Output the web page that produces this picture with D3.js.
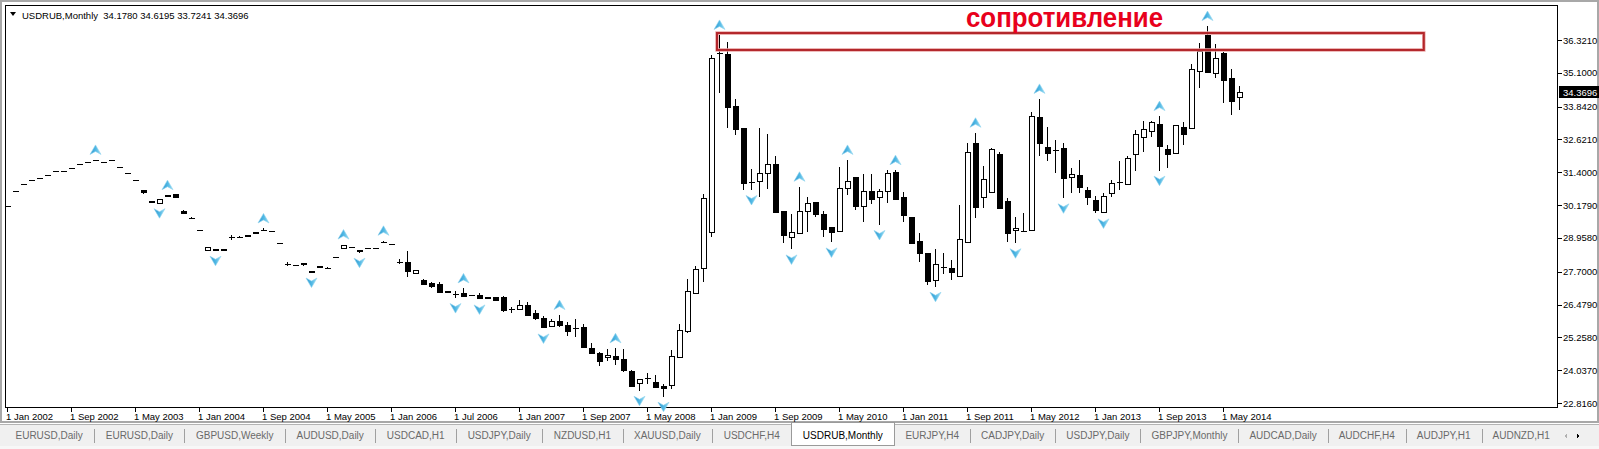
<!DOCTYPE html>
<html>
<head>
<meta charset="utf-8">
<script src="https://cdn.jsdelivr.net/npm/d3@7"></script>
<style>
  body { margin: 0; background: #fff; overflow: hidden; }
  svg { display: block; }
</style>
</head>
<body>
<div id="chart"></div>
<script>
// Layout
const width = 1599;
const height = 449;
const frame = {left: 5.5, top: 5.5, right: 1557.5, bottom: 407.5};
const bar_step = 8;    // px per monthly bar
const first_bar_x = 7;

// Data (one bar per month, Jan 2002 .. mid 2014, a few months missing)
const opens = [30.14,30.70,30.96,31.10,31.18,31.30,31.45,31.46,31.55,31.71,
  31.77,31.86,31.77,31.85,31.59,31.37,31.10,30.73,30.33,30.25,
  30.55,30.59,29.95,29.71,29.25,28.52,28.55,28.55,28.98,29.00,
  29.06,29.16,29.26,29.21,28.76,28.00,27.94,28.01,27.72,27.91,
  27.84,28.26,28.60,28.61,28.50,28.58,28.58,28.81,28.73,28.08,
  28.05,27.66,27.39,27.27,27.24,26.99,26.87,26.90,26.82,26.83,
  26.76,26.77,26.75,26.30,26.30,26.45,26.15,25.99,25.67,25.88,
  25.72,25.62,25.65,24.86,24.66,24.52,24.56,24.44,23.99,23.55,
  23.74,23.59,23.46,23.48,24.52,25.52,26.93,27.84,29.18,35.85,
  35.80,33.86,33.06,31.05,31.05,31.36,31.70,29.96,28.99,29.13,
  29.96,30.28,29.84,29.35,29.20,30.84,31.21,30.12,30.69,30.47,
  30.68,31.42,30.47,29.74,28.85,28.38,27.39,27.89,27.83,27.54,
  28.82,32.50,30.47,30.65,32.08,30.33,29.22,29.23,29.25,33.45,
  32.35,32.23,32.29,31.21,31.30,30.74,30.37,29.91,30.62,31.05,
  30.95,32.07,32.69,32.91,33.18,32.25,32.11,33.08,33.04,35.17,
  36.51,35.08,35.85,34.90,34.1780];
const highs = [30.14,30.70,30.96,31.10,31.18,31.30,31.45,31.46,31.55,31.71,
  31.77,31.86,31.77,31.85,31.59,31.37,31.10,30.73,30.33,30.41,
  30.55,30.59,29.98,29.73,29.25,28.63,28.55,28.55,29.05,29.03,
  29.06,29.16,29.31,29.21,28.76,28.08,27.94,28.01,27.72,27.91,
  27.87,28.26,28.71,28.61,28.50,28.58,28.58,28.85,28.73,28.18,
  28.48,27.76,27.43,27.31,27.30,26.99,26.99,27.08,26.82,26.91,
  26.76,26.77,26.80,26.40,26.65,26.56,26.28,26.05,25.93,26.09,
  25.84,25.93,25.75,25.06,24.72,24.82,24.85,24.82,24.03,23.71,
  23.92,23.86,23.52,24.79,25.74,27.42,27.91,30.59,35.76,36.51,
  36.26,34.12,33.06,31.51,33.06,32.81,32.00,29.96,29.85,30.86,
  30.49,30.28,29.96,29.35,31.61,31.86,31.21,31.32,31.32,30.79,
  31.48,31.48,30.68,29.74,29.13,28.38,28.54,28.38,28.14,30.18,
  32.50,32.87,31.64,32.29,32.16,30.43,29.75,29.87,33.65,34.13,
  33.07,32.60,32.48,31.55,31.86,30.86,30.52,30.64,31.11,31.82,
  32.00,32.99,33.32,33.32,33.49,32.42,33.16,33.26,35.42,36.22,
  36.84,36.16,35.89,35.24,34.6195];
const lows = [30.14,30.70,30.96,31.10,31.18,31.30,31.45,31.46,31.55,31.71,
  31.77,31.86,31.77,31.85,31.59,31.37,31.10,30.60,30.28,30.25,
  30.51,30.49,29.84,29.67,29.25,28.52,28.48,28.50,28.88,28.98,
  29.02,29.12,29.24,29.21,28.76,27.92,27.94,27.93,27.67,27.87,
  27.82,28.26,28.60,28.61,28.41,28.58,28.58,28.79,28.73,27.98,
  27.49,27.66,27.19,27.10,26.90,26.94,26.72,26.77,26.82,26.67,
  26.71,26.67,26.20,26.18,26.30,26.05,25.90,25.59,25.67,25.66,
  25.31,25.28,24.89,24.67,24.20,24.38,24.23,23.98,23.42,23.27,
  23.52,23.36,23.05,23.33,24.48,25.43,26.90,27.30,29.00,34.34,
  33.04,32.79,30.74,30.74,30.49,30.78,29.87,28.76,28.53,29.13,
  29.17,29.75,29.00,28.79,29.20,30.55,29.99,29.56,30.22,29.44,
  30.25,30.40,29.56,28.79,28.07,27.21,27.14,27.62,27.39,27.49,
  28.82,29.69,30.06,30.65,30.03,28.82,28.76,29.17,29.25,32.00,
  31.83,31.39,30.43,30.64,30.64,30.18,29.87,29.87,30.49,30.74,
  30.93,31.45,32.17,32.72,31.46,31.55,32.08,32.41,33.04,34.52,
  35.12,34.92,33.99,33.53,33.7241];
const closes = [30.14,30.70,30.96,31.10,31.18,31.30,31.45,31.46,31.55,31.71,
  31.77,31.86,31.77,31.85,31.59,31.37,31.10,30.65,30.28,30.41,
  30.51,30.49,29.86,29.70,29.25,28.63,28.50,28.50,28.98,29.00,
  29.02,29.12,29.26,29.21,28.76,28.00,27.94,27.97,27.67,27.87,
  27.84,28.26,28.71,28.61,28.45,28.58,28.58,28.81,28.73,28.08,
  27.70,27.76,27.23,27.14,26.95,26.94,26.87,26.77,26.82,26.70,
  26.71,26.67,26.25,26.30,26.46,26.09,25.95,25.64,25.87,25.73,
  25.51,25.62,24.91,24.69,24.35,24.60,24.44,24.02,23.45,23.71,
  23.74,23.42,23.38,24.57,25.53,26.99,27.82,30.44,35.65,35.83,
  33.84,33.00,31.03,31.05,31.36,31.70,29.91,29.07,29.16,29.96,
  30.27,29.84,29.30,29.17,30.80,31.09,30.12,30.69,30.40,30.69,
  31.36,30.42,29.79,28.79,28.42,27.33,27.97,27.89,27.67,28.91,
  32.17,30.12,31.15,32.25,30.08,29.13,29.31,29.23,33.50,32.50,
  32.13,32.23,31.18,31.32,30.86,30.47,30.00,30.52,31.01,31.05,
  31.92,32.81,33.00,33.26,32.35,32.08,33.16,32.81,35.24,35.91,
  35.12,35.64,34.86,34.03,34.3696];

// fractal indicator marks (bar indices)
const up_fractals = [11,20,32,42,47,57,69,76,89,99,105,111,121,129,144,150];
const down_fractals = [19,26,38,44,56,59,67,79,82,93,98,103,109,116,126,132,137,144];

// axes
const price_ticks = [36.3210,35.1000,33.8420,32.6210,31.4000,30.1790,28.9580,27.7000,26.4790,25.2580,24.0370,22.8160];
const date_labels = ["1 Jan 2002","1 Sep 2002","1 May 2003","1 Jan 2004","1 Sep 2004","1 May 2005","1 Jan 2006",
  "1 Jul 2006","1 Jan 2007","1 Sep 2007","1 May 2008","1 Jan 2009","1 Sep 2009","1 May 2010","1 Jan 2011",
  "1 Sep 2011","1 May 2012","1 Jan 2013","1 Sep 2013","1 May 2014"];
const label_every = 8;  // one date label every 8 bars

// header + annotation
const symbol_name = "USDRUB,Monthly";
const last_ohlc = [34.1780, 34.6195, 33.7241, 34.3696];
const zone_note = "сопротивление";
const zone_prices = [35.95, 36.58];   // the red box
const zone_bars = [88.75, 177.1];

// terminal tabs at the bottom
const tab_names = ["EURUSD,Daily","EURUSD,Daily","GBPUSD,Weekly","AUDUSD,Daily","USDCAD,H1","USDJPY,Daily",
  "NZDUSD,H1","XAUUSD,Daily","USDCHF,H4","USDRUB,Monthly","EURJPY,H4","CADJPY,Daily","USDJPY,Daily",
  "GBPJPY,Monthly","AUDCAD,Daily","AUDCHF,H4","AUDJPY,H1","AUDNZD,H1"];
const active_tab = "USDRUB,Monthly";

// Scales
let x = d3.scaleLinear()
  .domain([0, opens.length - 1])
  .range([first_bar_x, first_bar_x + bar_step * (opens.length - 1)]);

let y = d3.scaleLinear()
  .domain([22.668, 37.586])
  .range([frame.bottom - 0.5, frame.top + 0.5]);

const bars = opens.map((o, i) => ({i: i, o: o, h: highs[i], l: lows[i], c: closes[i]}));
const cx = i => Math.round(x(i)) + 0.5;  // crisp pixel column

const font = "'Liberation Sans', Arial, sans-serif";

let svg = d3.select("#chart").append("svg")
  .attr("width", width)
  .attr("height", height)
  .style("font-family", font);

let defs = svg.append("defs");
let grad = defs.append("linearGradient").attr("id", "frac_fill")
  .attr("x1", 0).attr("x2", 1).attr("y1", 0).attr("y2", 0);
grad.append("stop").attr("offset", "0%").attr("stop-color", "#2f97cf");
grad.append("stop").attr("offset", "50%").attr("stop-color", "#4fb7e4");
grad.append("stop").attr("offset", "100%").attr("stop-color", "#9adcf2");

// window borders
svg.append("rect")
  .attr("x", 1).attr("y", 1).attr("width", width - 2).attr("height", 421)
  .attr("fill", "none").attr("stroke", "#a8a8a8").attr("stroke-width", 2);

svg.append("rect")
  .attr("x", frame.left).attr("y", frame.top)
  .attr("width", frame.right - frame.left).attr("height", frame.bottom - frame.top)
  .attr("fill", "#fff").attr("stroke", "#000").attr("shape-rendering", "crispEdges");

// Candles
let candle_g = svg.append("g").attr("shape-rendering", "crispEdges");

candle_g.selectAll("line.wick").data(bars.filter(d => y(d.l) - y(d.h) >= 1)).join("line")
  .attr("class", "wick")
  .attr("x1", d => cx(d.i)).attr("x2", d => cx(d.i))
  .attr("y1", d => y(d.h)).attr("y2", d => y(d.l))
  .attr("stroke", "#000");

// flat bodies are drawn as a dash, like MT4 does for dojis
candle_g.selectAll("line.doji").data(bars.filter(d => Math.abs(y(d.o) - y(d.c)) < 1)).join("line")
  .attr("class", "doji")
  .attr("x1", d => cx(d.i) - 3).attr("x2", d => cx(d.i) + 3)
  .attr("y1", d => Math.round(y(d.c)) + 0.5).attr("y2", d => Math.round(y(d.c)) + 0.5)
  .attr("stroke", "#000");

candle_g.selectAll("rect.body").data(bars.filter(d => Math.abs(y(d.o) - y(d.c)) >= 1)).join("rect")
  .attr("class", "body")
  .attr("x", d => cx(d.i) - 2.5)
  .attr("y", d => Math.round(y(Math.max(d.o, d.c))) + 0.5)
  .attr("width", 5)
  .attr("height", d => Math.max(1, Math.round(y(Math.min(d.o, d.c)) - y(Math.max(d.o, d.c)))))
  .attr("fill", d => d.c > d.o ? "#fff" : "#000")
  .attr("stroke", "#000");

// Fractal arrows
let frac_g = svg.append("g");
frac_g.selectAll("path.up").data(up_fractals).join("path")
  .attr("class", "up")
  .attr("transform", i => `translate(${cx(i)},${y(highs[i]) - 10})`)
  .attr("d", "M0,-5 L5.5,4.5 L0,1.5 L-5.5,4.5 Z")
  .attr("fill", "url(#frac_fill)")
  .attr("stroke", "#8fd3ee").attr("stroke-width", 0.6);

frac_g.selectAll("path.down").data(down_fractals).join("path")
  .attr("class", "down")
  .attr("transform", i => `translate(${cx(i)},${y(lows[i]) + 10})`)
  .attr("d", "M0,5 L5.5,-4.5 L0,-1.5 L-5.5,-4.5 Z")
  .attr("fill", "url(#frac_fill)")
  .attr("stroke", "#8fd3ee").attr("stroke-width", 0.6);

// Resistance zone
svg.append("rect")
  .attr("x", x(zone_bars[0])).attr("y", y(zone_prices[1]))
  .attr("width", x(zone_bars[1]) - x(zone_bars[0]))
  .attr("height", y(zone_prices[0]) - y(zone_prices[1]))
  .attr("fill", "none").attr("stroke", "#e9a4a4").attr("stroke-width", 3.5);
svg.append("rect")
  .attr("x", x(zone_bars[0])).attr("y", y(zone_prices[1]))
  .attr("width", x(zone_bars[1]) - x(zone_bars[0]))
  .attr("height", y(zone_prices[0]) - y(zone_prices[1]))
  .attr("fill", "none").attr("stroke", "#b3262a").attr("stroke-width", 2);

svg.append("text")
  .attr("x", 966).attr("y", 27)
  .attr("font-size", 28).attr("font-weight", "bold")
  .attr("fill", "#e8001c")
  .attr("textLength", 197).attr("lengthAdjust", "spacingAndGlyphs")
  .text(zone_note);

// Header
svg.append("path").attr("d", "M10,12 L16,12 L13,16 Z").attr("fill", "#000");
svg.append("text")
  .attr("x", 22).attr("y", 18.5)
  .attr("font-size", 9.5).attr("fill", "#000")
  .attr("xml:space", "preserve")
  .text(symbol_name + "  " + last_ohlc.map(v => v.toFixed(4)).join(" "));

// Price axis
let price_g = svg.append("g").attr("shape-rendering", "crispEdges");
price_g.selectAll("line").data(price_ticks).join("line")
  .attr("x1", frame.right).attr("x2", frame.right + 4)
  .attr("y1", d => Math.round(y(d)) + 0.5).attr("y2", d => Math.round(y(d)) + 0.5)
  .attr("stroke", "#000");
price_g.selectAll("text").data(price_ticks).join("text")
  .attr("x", frame.right + 5.5).attr("y", d => y(d) + 3.5)
  .attr("font-size", 9.5).attr("fill", "#000")
  .text(d => d.toFixed(4));

// current price tag
const last_close = closes[closes.length - 1];
price_g.append("rect")
  .attr("x", frame.right + 1).attr("y", Math.round(y(last_close)) - 6)
  .attr("width", width - frame.right - 1).attr("height", 12)
  .attr("fill", "#000");
price_g.append("text")
  .attr("x", frame.right + 5.5).attr("y", y(last_close) + 3.5)
  .attr("font-size", 9.5).attr("fill", "#fff")
  .text(last_close.toFixed(4));

// Date axis (small tick under the frame, label starting at it)
let date_g = svg.append("g");
date_g.selectAll("line").data(date_labels).join("line")
  .attr("x1", (d, k) => cx(k * label_every)).attr("x2", (d, k) => cx(k * label_every))
  .attr("y1", frame.bottom).attr("y2", frame.bottom + 4)
  .attr("stroke", "#000").attr("shape-rendering", "crispEdges");
date_g.selectAll("text").data(date_labels).join("text")
  .attr("x", (d, k) => x(k * label_every) - 1)
  .attr("y", 420)
  .attr("font-size", 9.5).attr("fill", "#000")
  .text(d => d);

// Tabs
const tab_top = 424;
const tab_bottom = 446;
let tab_g = svg.append("g").attr("shape-rendering", "crispEdges");
tab_g.append("rect").attr("x", 0).attr("y", tab_top).attr("width", width).attr("height", height - tab_top).attr("fill", "#f0f0f0");
tab_g.append("line").attr("x1", 0).attr("x2", width).attr("y1", tab_top + 0.5).attr("y2", tab_top + 0.5).attr("stroke", "#b4b4b4");
tab_g.append("rect").attr("x", 0).attr("y", tab_bottom).attr("width", width).attr("height", height - tab_bottom).attr("fill", "#f7f7f7");

// measure labels so the tabs get their natural widths
let measure = svg.append("text").attr("font-size", 10).attr("visibility", "hidden");
let tab_x = 4;
const active_k = tab_names.indexOf(active_tab);
const tabs = tab_names.map((name, k) => {
  measure.text(name);
  const pad = k > active_k ? 22 : 23;  // the ones right of the active tab sit a little tighter
  const w = measure.node().getComputedTextLength() + pad;
  const t = {name: name, x: tab_x, w: w};
  tab_x += w;
  return t;
});
measure.remove();

tabs.forEach((t, k) => {
  if (k === active_k) {
    tab_g.append("rect")
      .attr("x", Math.round(t.x) + 0.5).attr("y", tab_top - 1.5)
      .attr("width", Math.round(t.w)).attr("height", tab_bottom - tab_top + 1)
      .attr("fill", "#fff").attr("stroke", "#9a9a9a");
  } else if (k > 0 && k !== active_k + 1) {
    tab_g.append("line")
      .attr("x1", Math.round(t.x) + 0.5).attr("x2", Math.round(t.x) + 0.5)
      .attr("y1", tab_top + 5).attr("y2", tab_bottom - 3)
      .attr("stroke", "#a0a0a0");
  }
});
tab_g.selectAll("text").data(tabs).join("text")
  .attr("x", d => d.x + d.w / 2).attr("y", 439)
  .attr("text-anchor", "middle")
  .attr("font-size", 10)
  .attr("fill", d => d.name === active_tab ? "#000" : "#6a6a6a")
  .text(d => d.name);

// little scroll arrows at the far right
tab_g.append("path").attr("d", "M1567,433.5 L1564,436 L1567,438.5 Z").attr("fill", "#b0b0b0");
tab_g.append("path").attr("d", "M1577,433.5 L1580,436 L1577,438.5 Z").attr("fill", "#000");
</script>
</body>
</html>
